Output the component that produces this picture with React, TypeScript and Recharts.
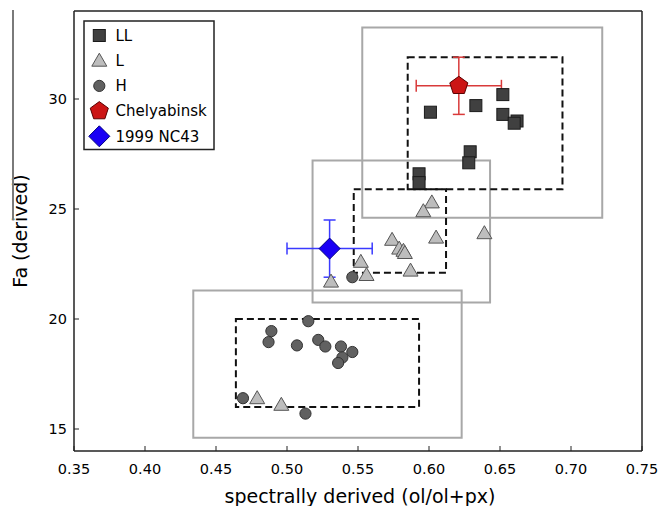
import {
  ScatterChart,
  Scatter,
  XAxis,
  YAxis,
  ReferenceArea,
  ErrorBar,
} from 'recharts';

// LL chondrites (squares)
const llX = [0.601, 0.633, 0.652, 0.652, 0.662, 0.66, 0.629, 0.628, 0.593, 0.593];
const llY = [29.4, 29.7, 30.2, 29.3, 29.0, 28.9, 27.6, 27.1, 26.6, 26.2];

// L chondrites (triangles)
const lX = [0.602, 0.596, 0.605, 0.639, 0.574, 0.579, 0.582, 0.583, 0.587, 0.552, 0.556, 0.531, 0.479, 0.496];
const lY = [25.3, 24.9, 23.7, 23.9, 23.6, 23.2, 23.1, 23.0, 22.2, 22.6, 22.0, 21.7, 16.4, 16.1];

// H chondrites (circles)
const hX = [0.515, 0.489, 0.487, 0.507, 0.522, 0.527, 0.538, 0.546, 0.539, 0.536, 0.469, 0.513, 0.546];
const hY = [19.9, 19.45, 18.95, 18.8, 19.05, 18.75, 18.75, 18.5, 18.25, 18.0, 16.4, 15.7, 21.9];

// single objects with error bars: [x, y, xErr, yErr]
const chelyabinsk = [0.621, 30.6, 0.03, 1.3];
const nc43 = [0.53, 23.2, 0.03, 1.3];

// outer (gray) and inner (dashed) ranges: [x1, x2, y1, y2]
const grayBoxes = [
  [0.553, 0.722, 24.6, 33.25],
  [0.518, 0.643, 20.75, 27.2],
  [0.434, 0.623, 14.6, 21.3],
];
const dashedBoxes = [
  [0.585, 0.694, 25.9, 31.9],
  [0.547, 0.612, 22.1, 25.9],
  [0.464, 0.593, 16.0, 20.0],
];

const xTicks = [0.35, 0.4, 0.45, 0.5, 0.55, 0.6, 0.65, 0.7, 0.75];
const yTicks = [15, 20, 25, 30];

const font = 'DejaVu Sans, sans-serif';
const axisColor = '#222';

const toPoints = (xs: number[], ys: number[]) => xs.map((x, i) => ({ x, y: ys[i] }));

const Square = ({ cx, cy }: any) => (
  <rect x={cx - 6} y={cy - 6} width={12} height={12} fill="#404040" stroke="#1a1a1a" strokeWidth={1} />
);

const Triangle = ({ cx, cy }: any) => (
  <polygon
    points={`${cx},${cy - 7.5} ${cx - 7.5},${cy + 5.5} ${cx + 7.5},${cy + 5.5}`}
    fill="#bdbdbd"
    stroke="#555"
    strokeWidth={1}
  />
);

const Dot = ({ cx, cy }: any) => (
  <circle cx={cx} cy={cy} r={5.6} fill="#616161" stroke="#333" strokeWidth={1} />
);

const Pentagon = ({ cx, cy }: any) => {
  const r = 9.5;
  const pts = [0, 1, 2, 3, 4]
    .map((k) => {
      const a = -Math.PI / 2 + (k * 2 * Math.PI) / 5;
      return `${cx + r * Math.cos(a)},${cy + r * Math.sin(a)}`;
    })
    .join(' ');
  return <polygon points={pts} fill="#cc1515" stroke="#5a0000" strokeWidth={1} />;
};

const Diamond = ({ cx, cy }: any) => {
  const r = 10.5;
  return (
    <polygon
      points={`${cx},${cy - r} ${cx + r},${cy} ${cx},${cy + r} ${cx - r},${cy}`}
      fill="#1a00f5"
      stroke="#000080"
      strokeWidth={1}
    />
  );
};

const legendItems = [
  { label: 'LL', Shape: Square },
  { label: 'L', Shape: Triangle },
  { label: 'H', Shape: Dot },
  { label: 'Chelyabinsk', Shape: Pentagon },
  { label: '1999 NC43', Shape: Diamond },
];

export default function App() {
  const llData = toPoints(llX, llY);
  const lData = toPoints(lX, lY);
  const hData = toPoints(hX, hY);
  const chelData = [{ x: chelyabinsk[0], y: chelyabinsk[1], ex: chelyabinsk[2], ey: chelyabinsk[3] }];
  const ncData = [{ x: nc43[0], y: nc43[1], ex: nc43[2], ey: nc43[3] }];

  return (
    <div style={{ position: 'absolute', left: 0, top: 0, width: 661, height: 506, background: '#fff', overflow: 'hidden' }}>
      <ScatterChart width={661} height={506} margin={{ top: 10, right: 18, bottom: 0, left: 0 }}>
        <XAxis
          type="number"
          dataKey="x"
          domain={[0.35, 0.75]}
          ticks={xTicks}
          tickFormatter={(v: number) => v.toFixed(2)}
          height={55}
          tickSize={-5}
          tickMargin={18}
          stroke={axisColor}
          axisLine={{ stroke: axisColor, strokeWidth: 1.5 }}
          tick={{ fill: '#000', fontSize: 14.5, fontFamily: font }}
          label={{
            value: 'spectrally derived (ol/ol+px)',
            position: 'center',
            dy: 18,
            dx: 2,
            style: { fontSize: 19, fontFamily: font, fill: '#000' },
          }}
        />
        <XAxis
          xAxisId="top"
          orientation="top"
          type="number"
          dataKey="x"
          domain={[0.35, 0.75]}
          ticks={xTicks}
          height={1}
          tickSize={-5}
          tick={false}
          stroke={axisColor}
          axisLine={{ stroke: axisColor, strokeWidth: 1.5 }}
        />
        <YAxis
          type="number"
          dataKey="y"
          domain={[14, 34]}
          ticks={yTicks}
          width={74}
          tickSize={-5}
          tickMargin={12}
          stroke={axisColor}
          axisLine={{ stroke: axisColor, strokeWidth: 1.5 }}
          tick={{ fill: '#000', fontSize: 14.5, fontFamily: font }}
          label={{
            value: 'Fa (derived)',
            angle: -90,
            position: 'center',
            dx: -17,
            style: { fontSize: 19, fontFamily: font, fill: '#000', textAnchor: 'middle' },
          }}
        />
        <YAxis
          yAxisId="right"
          orientation="right"
          type="number"
          dataKey="y"
          domain={[14, 34]}
          ticks={yTicks}
          width={1}
          tickSize={-5}
          tick={false}
          stroke={axisColor}
          axisLine={{ stroke: axisColor, strokeWidth: 1.5 }}
        />

        {grayBoxes.map((b, i) => (
          <ReferenceArea
            key={`g${i}`}
            x1={b[0]}
            x2={b[1]}
            y1={b[2]}
            y2={b[3]}
            fill="none"
            fillOpacity={0}
            stroke="#a8a8a8"
            strokeWidth={2}
          />
        ))}
        {dashedBoxes.map((b, i) => (
          <ReferenceArea
            key={`d${i}`}
            x1={b[0]}
            x2={b[1]}
            y1={b[2]}
            y2={b[3]}
            fill="none"
            fillOpacity={0}
            stroke="#111"
            strokeWidth={2}
            strokeDasharray="7 4"
          />
        ))}

        <Scatter name="LL" data={llData} shape={(p: any) => <Square cx={p.cx} cy={p.cy} />} isAnimationActive={false} />
        <Scatter name="L" data={lData} shape={(p: any) => <Triangle cx={p.cx} cy={p.cy} />} isAnimationActive={false} />
        <Scatter name="H" data={hData} shape={(p: any) => <Dot cx={p.cx} cy={p.cy} />} isAnimationActive={false} />
        <Scatter
          name="Chelyabinsk"
          data={chelData}
          shape={(p: any) => <Pentagon cx={p.cx} cy={p.cy} />}
          isAnimationActive={false}
        >
          <ErrorBar dataKey="ex" direction="x" width={6} stroke="#d93a3a" strokeWidth={1.5} isAnimationActive={false} />
          <ErrorBar dataKey="ey" direction="y" width={6} stroke="#d93a3a" strokeWidth={1.5} isAnimationActive={false} />
        </Scatter>
        <Scatter
          name="1999 NC43"
          data={ncData}
          shape={(p: any) => <Diamond cx={p.cx} cy={p.cy} />}
          isAnimationActive={false}
        >
          <ErrorBar dataKey="ex" direction="x" width={6} stroke="#3a3aff" strokeWidth={1.5} isAnimationActive={false} />
          <ErrorBar dataKey="ey" direction="y" width={6} stroke="#3a3aff" strokeWidth={1.5} isAnimationActive={false} />
        </Scatter>
      </ScatterChart>

      {/* stray page edge line seen in the source image */}
      <div style={{ position: 'absolute', left: 12, top: 10, width: 1.5, height: 210, background: '#7a7a7a' }} />

      {/* Legend box */}
      <svg
        width={132}
        height={131}
        style={{ position: 'absolute', left: 83, top: 20 }}
      >
        <rect x={1} y={1} width={130} height={128.5} fill="#fff" stroke="#222" strokeWidth={1.5} />
        {legendItems.map(({ label, Shape }, i) => {
          const cy = 15.5 + i * 25.2;
          return (
            <g key={label}>
              <Shape cx={16.3} cy={cy} />
              <text x={32.5} y={cy + 5.3} fontSize={15} fontFamily={font} fill="#000">
                {label}
              </text>
            </g>
          );
        })}
      </svg>
    </div>
  );
}
